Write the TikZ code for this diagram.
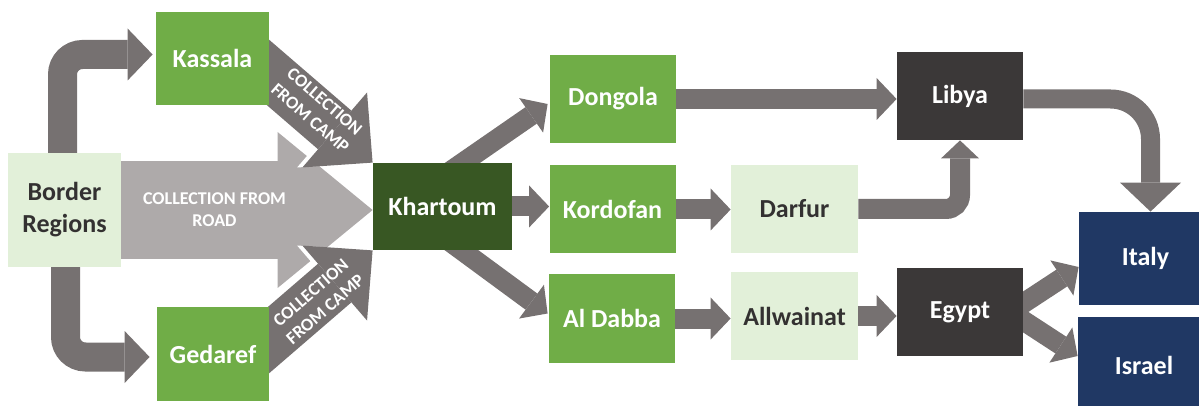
\documentclass[tikz,border=0pt]{standalone}
\usepackage{fontspec}
\setmainfont{Carlito}
\usetikzlibrary{arrows.meta,calc,backgrounds}

\definecolor{paleGreen}{HTML}{E2F0D9}
\definecolor{midGreen}{HTML}{70AD47}
\definecolor{darkGreen}{HTML}{385723}
\definecolor{charcoal}{HTML}{3B3838}
\definecolor{navy}{HTML}{203864}
\definecolor{arrowGray}{HTML}{767171}
\definecolor{roadGray}{HTML}{AEAAAA}
\definecolor{darkText}{HTML}{333131}

\tikzset{
  box/.style={rectangle, inner sep=0pt, minimum width=63pt, minimum height=44pt,
    align=center, text=white, font=\fontsize{13}{16}\selectfont\bfseries},
  pale/.style={box, fill=paleGreen, text=darkText},
  town/.style={box, fill=midGreen},
  hub/.style={box, fill=darkGreen},
  transit/.style={box, fill=charcoal},
  goal/.style={box, fill=navy},
  flow/.style={color=arrowGray, line width=10pt,
    -{Triangle[width=21pt,length=10pt,line width=0pt]}},
  feeder/.style={color=arrowGray, line width=14.5pt, rounded corners=10pt,
    -{Triangle[width=26pt,length=12.5pt,line width=0pt]}},
  road/.style={color=roadGray, line width=49pt,
    -{Triangle[width=78pt,length=47.5pt,line width=0pt]}},
  camp/.style={color=arrowGray, line width=25.5pt,
    -{Triangle[width=49.5pt,length=25pt,line width=0pt]},
    preaction={draw=white, line width=28pt,
      -{Triangle[width=53pt,length=27pt,line width=0pt]}}},
  tag/.style={text=white, align=center, font=\fontsize{9}{11}\selectfont\bfseries}
}

\begin{document}
\begin{tikzpicture}[x=0.5pt, y=-0.5pt]
	\useasboundingbox (0,0) rectangle (1199,406);
	\clip (0,0) rectangle (1199,406);

	% places
	\node[pale, minimum width=56.5pt, minimum height=57pt] (border) at (64.5,210) {Border\\Regions};
	\node[town, minimum width=56.5pt, minimum height=46.5pt] (kassala) at (212.5,58.5) {Kassala};
	\node[town, minimum width=56pt, minimum height=47pt] (gedaref) at (213,354) {Gedaref};
	\node[hub, minimum width=69.5pt, minimum height=43.5pt] (khartoum) at (442.5,206.5) {Khartoum};
	\node[town] (dongola) at (613,99) {Dongola};
	\node[town] (kordofan) at (612.5,209.5) {Kordofan};
	\node[town] (aldabba) at (612,318.5) {Al Dabba};
	\node[pale, minimum width=63.5pt] (darfur) at (794.5,209) {Darfur};
	\node[pale, minimum width=63.5pt] (allwainat) at (794.5,316) {Allwainat};
	\node[transit] (libya) at (960,96) {Libya};
	\node[transit] (egypt) at (960,312) {Egypt};
	\node[goal, minimum width=66.5pt, minimum height=46.5pt] (italy) at (1145.5,258.5) {Italy};
	\node[goal, minimum width=66pt, minimum height=48pt] (israel) at (1144,365) {Israel};

	% routes
	\begin{scope}[on background layer]
	\draw[road] ($(border.east)+(-5,0)$) -- (khartoum.west |- border.east);
	\draw[camp] ($(kassala.center)+(22.5,-14.5)$) -- (khartoum.north west);
	\draw[camp] ($(gedaref.center)+(22,15)$) -- (khartoum.south west);
	\draw[feeder] ($(border.north)+(-2,5)$) |- ($(kassala.west)+(-3,-4)$);
	\draw[feeder] ($(border.south)+(1,-5)$) |- ($(gedaref.west)+(-7,3)$);

	\draw[flow] ($(khartoum.north)+(3,12)$) -- ($(dongola.west)+(-2,5)$);
	\draw[flow] (khartoum.east) -- (kordofan.west |- khartoum.east);
	\draw[flow] ($(khartoum.south)+(3,-12)$) -- ($(aldabba.west)+(-1,-5)$);
	\draw[flow] (kordofan.east) -- (darfur.west |- kordofan.east);
	\draw[flow] (aldabba.east) -- (allwainat.west |- aldabba.east);
	\draw[flow] (allwainat.east) -- (egypt.west |- allwainat.east);
	\draw[flow] (dongola.east) -- (libya.west |- dongola.east);
	\draw[flow, rounded corners=7pt, -{Triangle[width=19pt,length=9pt,line width=0pt]}] (darfur.east) -| (libya.south);
	\draw[flow, line width=9.5pt, rounded corners=20pt, -{Triangle[width=30.5pt,length=14.5pt,line width=0pt]}] ($(libya.east)+(0,3)$) -| ($(italy.north)+(5,0)$);
	\draw[flow] ($(egypt.east)+(-21,5)$) -- ($(italy.west)+(0,8.5)$);
	\draw[flow] ($(egypt.east)+(-21,-5)$) -- ($(israel.west)+(0,-9)$);
	\end{scope}

	% labels on the wide arrows
	\node[tag] (roadtag) at (214.5,210) {COLLECTION FROM\\ROAD};
	\node[tag, rotate=-40.8] (camptop) at (317.5,110) {COLLECTION\\FROM CAMP};
	\node[tag, rotate=40.8] (campbottom) at (318,301) {COLLECTION\\FROM CAMP};
\end{tikzpicture}
\end{document}
